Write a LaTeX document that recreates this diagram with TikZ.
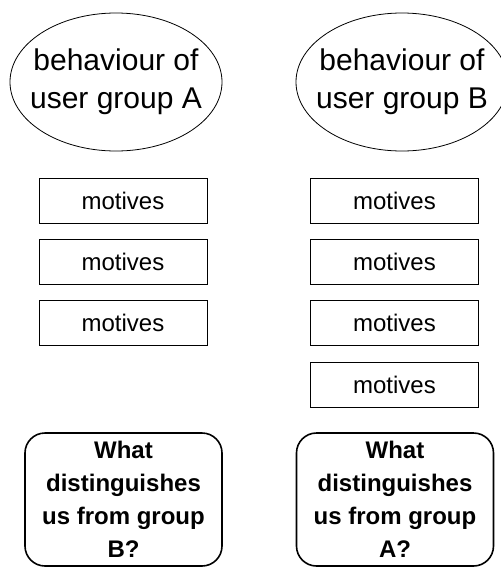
\documentclass[tikz,border=0pt]{standalone}
\usepackage{fontspec}
\setmainfont{Liberation Sans}
\usetikzlibrary{positioning, shapes.geometric}

\tikzset{
  behav/.style={draw, ellipse, line width=0.8pt, minimum width=212pt, minimum height=138pt,
                inner sep=-40pt, align=center, font=\fontsize{30}{38}\selectfont},
  motive/.style={draw, line width=0.9pt, minimum width=168pt, minimum height=45pt,
                 inner sep=0pt, font=\fontsize{24}{28}\selectfont},
  question/.style={draw, line width=1.6pt, rounded corners=20pt, minimum width=197pt,
                   minimum height=133pt, inner sep=0pt, align=center,
                   font=\bfseries\fontsize{24}{33}\selectfont},
}

\begin{document}
\begin{tikzpicture}[x=1pt, y=1pt]
    \useasboundingbox (0,0) rectangle (501,-568);
    % user groups
    \node[behav] (groupA) at (116,-82) {behaviour of\\user group A};
    \node[behav] (groupB) at (402,-82) {behaviour of\\user group B};
    % motives of group A
    \node[motive] (motA1) at (123,-200.5) {motives};
    \node[motive, below=15.5pt of motA1] (motA2) {motives};
    \node[motive, below=15.5pt of motA2] (motA3) {motives};
    % motives of group B
    \node[motive] (motB1) at (394.5,-200.5) {motives};
    \node[motive, below=15.5pt of motB1] (motB2) {motives};
    \node[motive, below=15.5pt of motB2] (motB3) {motives};
    \node[motive, below=15.5pt of motB3] (motB4) {motives};
    % questions
    \node[question] (questA) at (123.5,-499.5) {What\\distinguishes\\us from group\\B?};
    \node[question] (questB) at (395,-499.5) {What\\distinguishes\\us from group\\A?};
  \end{tikzpicture}
\end{document}
